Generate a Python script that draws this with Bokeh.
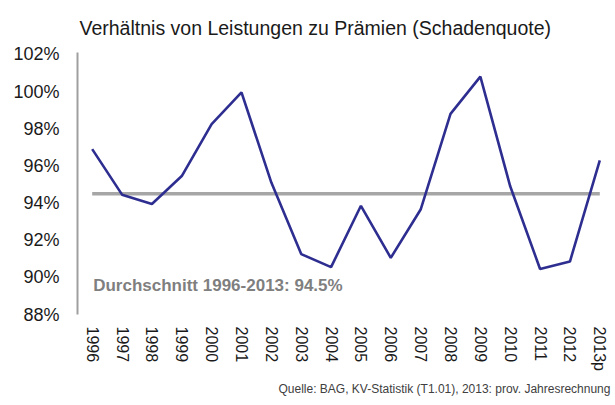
from bokeh.plotting import figure
from bokeh.models import FixedTicker, Label, Range1d, Title
from bokeh.embed import file_html
from bokeh.resources import INLINE

years = ["1996", "1997", "1998", "1999", "2000", "2001", "2002", "2003", "2004",
         "2005", "2006", "2007", "2008", "2009", "2010", "2011", "2012", "2013p"]
ratio = [96.9, 94.45, 93.95, 95.45, 98.25, 99.95, 95.1, 91.25, 90.55,
         93.85, 91.05, 93.65, 98.8, 100.8, 94.9, 90.45, 90.85, 96.3]
average = 94.5
y_ticks = [88, 90, 92, 94, 96, 98, 100, 102]
y_tick_labels = ["88%", "90%", "92%", "94%", "96%", "98%", "100%", "102%"]

title_text = "Verhältnis von Leistungen zu Prämien (Schadenquote)"
avg_text = "Durchschnitt 1996-2013: 94.5%"
source_text = "Quelle: BAG, KV-Statistik (T1.01), 2013: prov. Jahresrechnung"

FONT = "Liberation Sans"
idx = list(range(len(years)))

p = figure(width=615, height=405, output_backend="svg", toolbar_location=None,
           x_range=Range1d(-0.492, 17.526), y_range=Range1d(88, 102.1),
           min_border_left=77, min_border_right=0, min_border_top=52,
           min_border_bottom=91)
p.outline_line_color = None
p.background_fill_color = "white"
p.border_fill_color = "white"
p.xgrid.visible = False
p.ygrid.visible = False

# title
p.title.text = title_text
p.title.align = "left"
p.title.offset = 2
p.title.standoff = 27
p.title.text_font = FONT
p.title.text_font_size = "19.5px"
p.title.text_font_style = "normal"
p.title.text_color = "#1A1A1A"

# average line
p.line(idx, [average] * len(years), line_color="#A6A6A6", line_width=3.5)
# main series
p.line(idx, ratio, line_color="#2E2E91", line_width=2.6)

# x axis
xa = p.xaxis[0]
xa.ticker = FixedTicker(ticks=idx)
xa.major_label_overrides = {i: y for i, y in zip(idx, years)}
xa.major_label_orientation = "vertical"
xa.axis_line_color = None
xa.major_tick_line_color = None
xa.minor_tick_line_color = None
xa.major_tick_out = 0
xa.major_label_standoff = 12
xa.major_label_text_font = FONT
xa.major_label_text_font_size = "16px"
xa.major_label_text_color = "#1A1A1A"

# y axis
ya = p.yaxis[0]
ya.ticker = FixedTicker(ticks=y_ticks)
ya.major_label_overrides = {t: l for t, l in zip(y_ticks, y_tick_labels)}
ya.axis_line_color = "#A0A0A0"
ya.axis_line_width = 2
ya.major_tick_line_color = None
ya.minor_tick_line_color = None
ya.major_tick_out = 0
ya.major_label_standoff = 18
ya.major_label_text_font = FONT
ya.major_label_text_font_size = "18px"
ya.major_label_text_color = "#1A1A1A"

p.add_layout(Label(x=0, y=89.55, x_offset=1, text=avg_text, text_font=FONT,
                   text_font_size="17px", text_font_style="bold",
                   text_color="#7F7F7F", text_baseline="middle"))

source = Title(text=source_text, align="left", vertical_align="bottom",
               offset=201, standoff=13,
               text_font=FONT, text_font_size="12px", text_font_style="normal",
               text_color="#404040")
p.add_layout(source, "below")

open("out.html", "w").write(file_html(p, INLINE))
